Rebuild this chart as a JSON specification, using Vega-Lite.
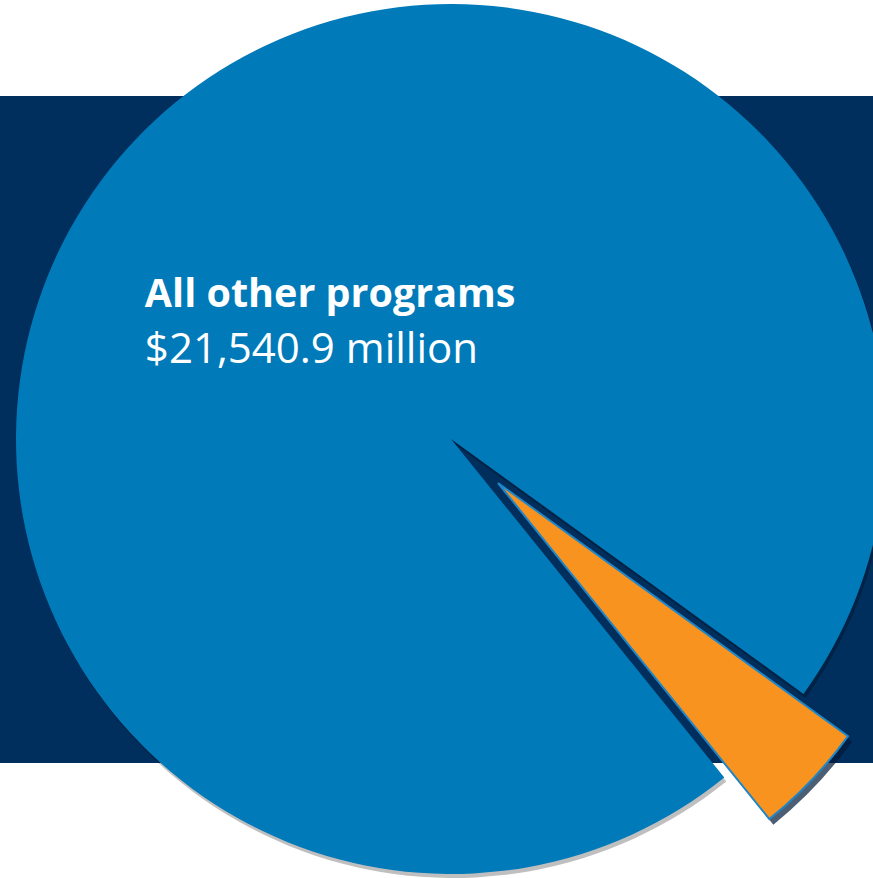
{
  "$schema": "https://vega.github.io/schema/vega-lite/v6.json",
  "width": 873,
  "height": 667,
  "autosize": "none",
  "padding": {"top": 96, "left": 0, "right": 0, "bottom": 115},
  "background": "white",
  "view": {"fill": "#002E5D", "stroke": null},
  "data": {
    "values": [
      {"program": "Featured program", "amount": 950, "line1": "", "line2": ""},
      {"program": "All other programs", "amount": 21540.9, "line1": "All other programs", "line2": "$21,540.9 million"}
    ]
  },
  "encoding": {
    "theta": {"field": "amount", "type": "quantitative", "stack": true, "scale": {"range": [2.197, 8.480]}},
    "order": {"field": "amount", "type": "quantitative", "sort": "ascending"}
  },
  "layer": [
    {
      "mark": {"type": "arc", "outerRadius": 435, "fill": "#000000", "xOffset": 16.5, "yOffset": 13.5},
      "encoding": {"opacity": {"condition": {"test": "datum.program === 'All other programs'", "value": 0.25}, "value": 0}}
    },
    {
      "mark": {"type": "arc", "outerRadius": 435, "fill": "#007AB9", "xOffset": 14.5, "yOffset": 9.5},
      "encoding": {"opacity": {"condition": {"test": "datum.program === 'All other programs'", "value": 1}, "value": 0}}
    },
    {
      "mark": {"type": "arc", "outerRadius": 432, "fill": "#001A38", "xOffset": 65.5, "yOffset": 59},
      "encoding": {"opacity": {"condition": {"test": "datum.program === 'Featured program'", "value": 0.7}, "value": 0}}
    },
    {
      "mark": {"type": "arc", "outerRadius": 432, "fill": "#F7931E", "stroke": "#1E86C8", "strokeWidth": 2, "xOffset": 61.5, "yOffset": 53.5},
      "encoding": {"opacity": {"condition": {"test": "datum.program === 'Featured program'", "value": 1}, "value": 0}}
    },
    {
      "mark": {"type": "text", "radius": 200, "align": "left", "baseline": "alphabetic", "font": "Open Sans", "fontSize": 39.5, "fontWeight": "bold", "color": "white", "xOffset": 14.5, "yOffset": 9.5, "dx": -161, "dy": 5.4},
      "encoding": {"text": {"field": "line1"}}
    },
    {
      "mark": {"type": "text", "radius": 200, "align": "left", "baseline": "alphabetic", "font": "Open Sans", "fontSize": 42, "fontWeight": "normal", "color": "white", "xOffset": 14.5, "yOffset": 9.5, "dx": -161, "dy": 61.4},
      "encoding": {"text": {"field": "line2"}}
    }
  ]
}
